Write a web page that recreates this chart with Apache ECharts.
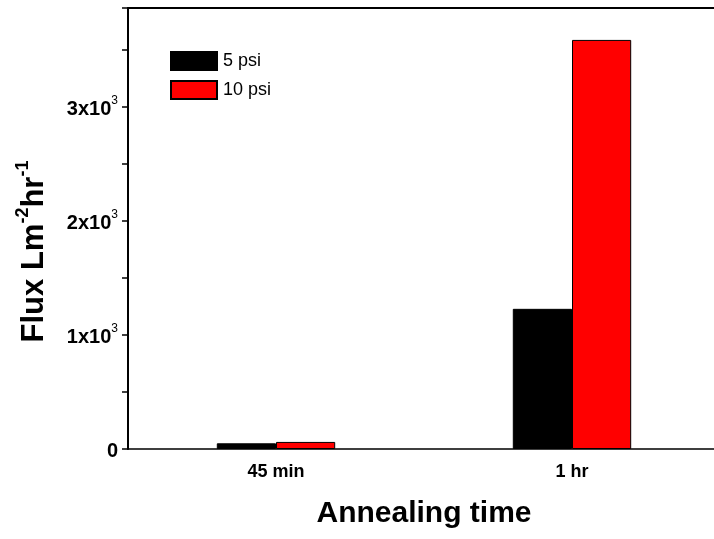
<!DOCTYPE html>
<html>
<head>
    <meta charset="UTF-8">
    <title>Flux vs annealing time</title>
    <script src="https://cdn.jsdelivr.net/npm/echarts@6/dist/echarts.min.js"></script>
    <style>
        html, body { margin: 0; padding: 0; background: #fff; }
        #main { width: 714px; height: 539px; }
    </style>
</head>
<body>
<div id="main"></div>
<script>
    // data
    var categories = ['45 min', '1 hr'];
    var psi5 = [50, 1230];
    var psi10 = [62, 3590];
    var yTicks = [0, 1000, 2000, 3000];

    var font = 'Liberation Sans, Arial, sans-serif';
    var myChart = echarts.init(document.getElementById('main'));

    var option = {
        backgroundColor: '#fff',
        animation: false,
        textStyle: { fontFamily: font },
        grid: { left: 128, right: -6, top: 8, bottom: 90, containLabel: false, outerBoundsMode: 'none' },
        legend: {
            left: 170, top: 51, orient: 'vertical', padding: 0,
            icon: 'rect',
            itemWidth: 46, itemHeight: 18, itemGap: 9,
            textStyle: { fontSize: 18, color: '#000', fontFamily: font, padding: [0, 0, 0, 1] },
            data: ['5 psi', '10 psi']
        },
        xAxis: [{
            type: 'category',
            data: categories,
            name: 'Annealing time',
            nameLocation: 'middle',
            nameGap: 50,
            nameTextStyle: { fontSize: 30, fontWeight: 'bold', color: '#000', fontFamily: font },
            axisLine: { lineStyle: { color: '#000', width: 1.5 } },
            axisTick: { alignWithLabel: true, length: 6, inside: false, lineStyle: { color: '#000' } },
            axisLabel: { fontSize: 18, fontWeight: 'bold', color: '#000', margin: 14, fontFamily: font }
        }, {
            type: 'category',
            position: 'top',
            data: categories,
            axisLine: { lineStyle: { color: '#000', width: 2 } },
            axisTick: { show: false },
            axisLabel: { show: false }
        }],
        yAxis: {
            type: 'value',
            min: 0,
            max: 3870,
            interval: 500,
            name: '{t|Flux Lm}{s|-2}{t|hr}{s|-1}',
            nameLocation: 'middle',
            nameGap: 78,
            nameRotate: 90,
            nameTextStyle: {
                padding: [0, 46, 0, 0],
                rich: {
                    t: { fontSize: 31, fontWeight: 'bold', color: '#000', fontFamily: font, lineHeight: 36, verticalAlign: 'bottom' },
                    s: { fontSize: 18, fontWeight: 'bold', color: '#000', fontFamily: font, lineHeight: 36, verticalAlign: 'top' }
                }
            },
            splitLine: { show: false },
            axisLine: { show: true, lineStyle: { color: '#000', width: 2 } },
            axisTick: { show: true, length: 6, lineStyle: { color: '#000', width: 1.5 } },
            minorTick: { show: false },
            axisLabel: {
                margin: 10,
                color: '#000',
                formatter: function (v) {
                    if (yTicks.indexOf(v) < 0) return '';
                    if (v === 0) return '{b|0}';
                    return '{b|' + (v / 1000) + 'x10}{s|3}';
                },
                rich: {
                    b: { fontSize: 20, fontWeight: 'bold', color: '#000', fontFamily: font, lineHeight: 24, verticalAlign: 'bottom' },
                    s: { fontSize: 12, color: '#000', fontFamily: font, lineHeight: 24, verticalAlign: 'top' }
                }
            }
        },
        series: [{
            name: '5 psi',
            type: 'bar',
            data: psi5,
            barGap: '0%',
            barCategoryGap: '60%',
            itemStyle: { color: '#000', borderColor: '#000', borderWidth: 1 }
        }, {
            name: '10 psi',
            type: 'bar',
            data: psi10,
            itemStyle: { color: '#ff0000', borderColor: '#000', borderWidth: 1 }
        }]
    };
    myChart.setOption(option);
</script>
</body>
</html>
